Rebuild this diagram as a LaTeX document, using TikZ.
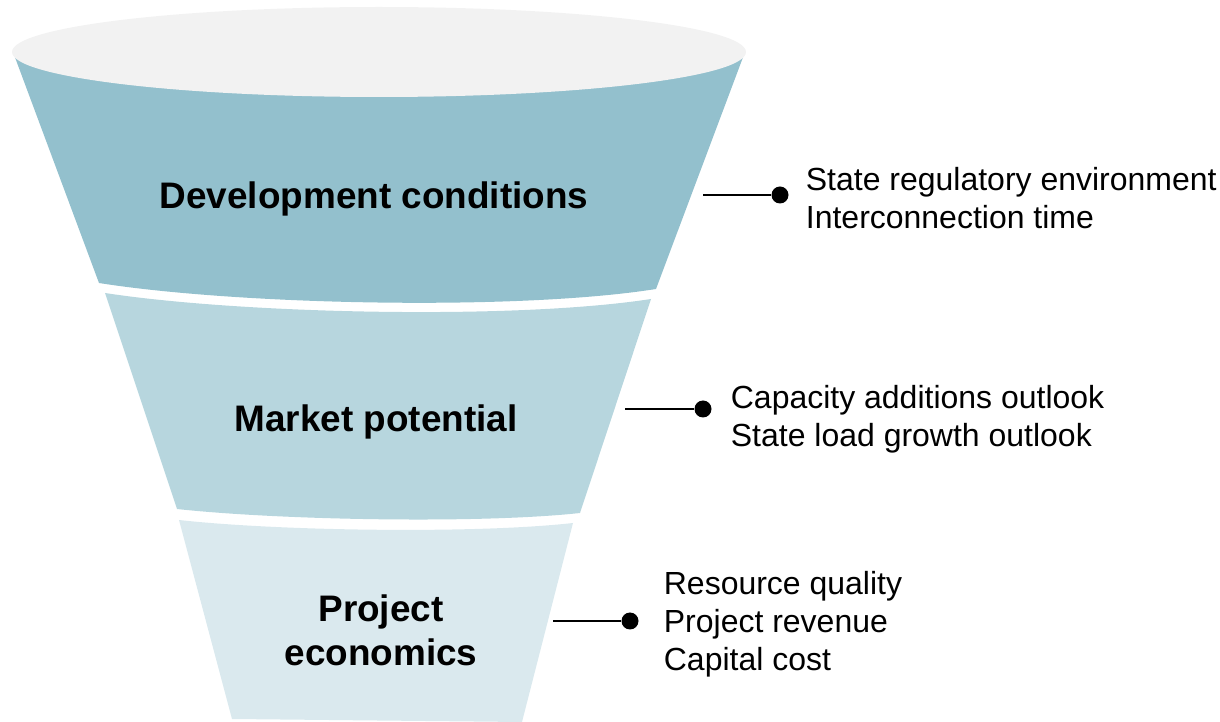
\documentclass[tikz,border=0pt]{standalone}
\usepackage{fontspec}
\setmainfont{Liberation Sans}
\usetikzlibrary{positioning}
\definecolor{rimgray}{RGB}{242,242,242}
\definecolor{banddark}{RGB}{147,192,205}
\definecolor{bandmid}{RGB}{183,214,222}
\definecolor{bandlight}{RGB}{218,233,238}

\tikzset{
    stage/.style={font=\fontsize{10.5}{12.5}\selectfont\bfseries, align=center},
    note/.style={font=\fontsize{9.1}{10.8}\selectfont, align=left, inner sep=0pt, anchor=west},
    dot/.style={circle, fill=black, inner sep=0pt, minimum size=0.17cm},
    lead/.style={line width=0.6pt}
}

\begin{document}
\begin{tikzpicture}
    \useasboundingbox (0,0) rectangle (12.2,-7.22);

    % Funnel bands, widest first
    \fill[banddark] (0.13,-0.52) -- (0.99,-2.83)
        .. controls (2.38,-3.05) and (5.17,-3.11) .. (6.56,-2.89)
        -- (7.45,-0.52) -- cycle;
    \fill[bandmid] (1.05,-2.93) -- (1.77,-5.09)
        .. controls (2.78,-5.20) and (4.79,-5.24) .. (5.80,-5.13)
        -- (6.51,-2.99)
        .. controls (5.15,-3.20) and (2.42,-3.14) .. (1.05,-2.93);
    \fill[bandlight] (1.79,-5.20) -- (2.32,-7.19) -- (5.22,-7.22) -- (5.73,-5.23)
        .. controls (4.75,-5.34) and (2.78,-5.31) .. (1.79,-5.20);

    % Rim of the funnel
    \fill[rimgray] (3.79,-0.52) ellipse [x radius=3.67, y radius=0.45];

    % Stage labels
    \node[stage] (dev) at (3.74,-1.99) {Development conditions};
    \node[stage] (mkt) at (3.76,-4.22) {Market potential};
    \node[stage] (eco) at (3.81,-6.30) {Project\\economics};

    % Callouts
    \coordinate (devlead) at (7.03,-1.95);
    \node[dot] (devdot) at (7.80,-1.95) {};
    \node[note, right=0.16 of devdot, yshift=-0.03cm] (devnote)
        {State regulatory environment\\Interconnection time};
    \draw[lead] (devlead) -- (devdot);

    \coordinate (mktlead) at (6.25,-4.09);
    \node[dot] (mktdot) at (7.03,-4.09) {};
    \node[note, right=0.18 of mktdot, yshift=-0.10cm] (mktnote)
        {Capacity additions outlook\\State load growth outlook};
    \draw[lead] (mktlead) -- (mktdot);

    \coordinate (ecolead) at (5.53,-6.21);
    \node[dot] (ecodot) at (6.30,-6.21) {};
    \node[note, right=0.24 of ecodot, yshift=-0.03cm] (econote)
        {Resource quality\\Project revenue\\Capital cost};
    \draw[lead] (ecolead) -- (ecodot);
\end{tikzpicture}
\end{document}
